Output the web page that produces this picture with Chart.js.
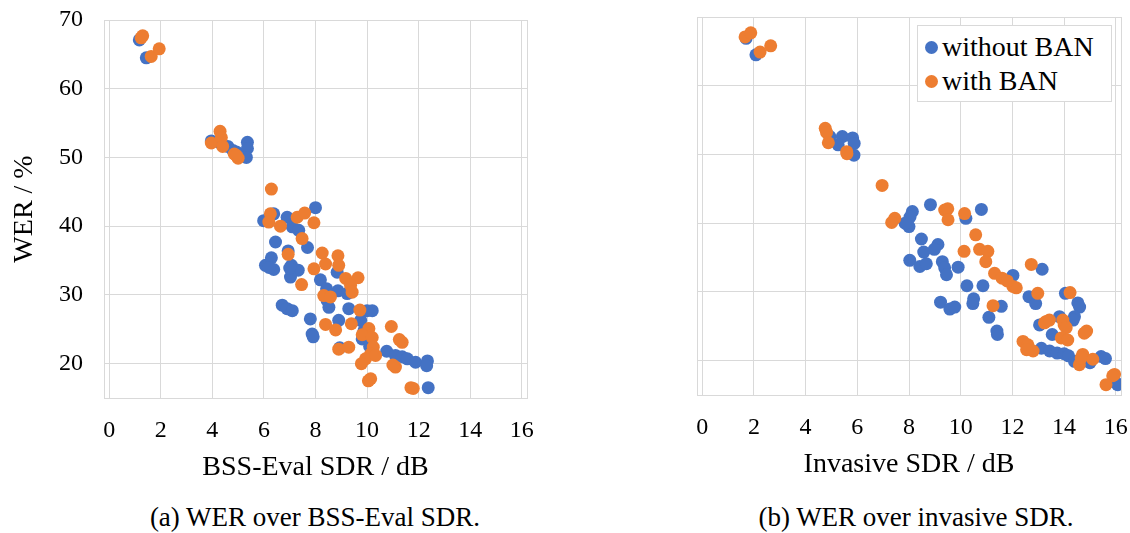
<!DOCTYPE html>
<html>
<head>
<meta charset="utf-8">
<script src="https://cdn.jsdelivr.net/npm/chart.js@4.4.1/dist/chart.umd.min.js"></script>
<style>
    body { margin: 0; width: 1130px; height: 533px; background: #fff; position: relative; overflow: hidden; font-family: "Liberation Serif", serif; color: #000; }
    .box { position: absolute; }
    #leftBox { left: 0; top: 0; width: 545px; height: 490px; }
    #rightBox { left: 690px; top: 0; width: 440px; height: 487px; }
    .caption { position: absolute; top: 502px; width: 500px; font-size: 27px; line-height: 30px; text-align: center; }
    #legend { position: absolute; left: 917px; top: 25px; width: 195px; height: 77px; border: 1px solid #d9d9d9; background: #fff; font-size: 28px; line-height: 34px; padding-top: 4px; box-sizing: border-box; }
    #legend div { padding-left: 7px; white-space: nowrap; }
    #legend span.dot { display: inline-block; width: 13px; height: 13px; border-radius: 50%; margin-right: 4px; vertical-align: 2px; }
</style>
</head>
<body>
<div class="box" id="leftBox"><canvas id="bssChart"></canvas></div>
<div class="box" id="rightBox"><canvas id="invChart"></canvas></div>
<div class="caption" style="left:65px">(a) WER over BSS-Eval SDR.</div>
<div class="caption" style="left:666px">(b) WER over invasive SDR.</div>
<div id="legend">
    <div><span class="dot" style="background:#4472c4"></span>without BAN</div>
    <div><span class="dot" style="background:#ed7d31"></span>with BAN</div>
</div>
<script>
// WER (%) over SDR (dB) as [x, y]
const bssWithout = [
    [1.17, 67.1], [1.44, 64.5],
    [3.96, 52.4], [4.3, 52.1], [4.6, 51.6], [4.8, 51.0], [4.93, 50.8], [5.36, 52.2], [5.36, 51.3], [5.32, 50.0],
    [5.99, 40.8], [6.38, 41.8], [6.9, 41.3], [7.1, 39.9], [7.35, 39.4], [8.0, 42.7], [6.45, 37.7], [6.94, 36.4], [7.69, 36.9],
    [6.06, 34.3], [6.29, 35.4], [6.38, 33.7], [7.07, 34.3], [7.33, 33.6], [7.03, 32.6], [6.2, 34.0], [7.0, 33.9],
    [8.19, 32.2], [8.84, 33.3], [8.43, 30.9], [8.45, 29.2], [8.52, 28.2], [8.87, 30.6], [9.23, 30.2], [9.29, 28.0],
    [10.2, 27.7], [10.0, 27.7], [9.75, 26.3],
    [6.71, 28.5], [6.9, 28.0], [7.1, 27.7], [7.8, 26.5], [7.87, 24.3], [7.91, 23.9],
    [8.9, 26.3], [9.88, 24.8], [9.81, 23.6], [8.94, 22.3], [10.1, 22.5],
    [10.76, 21.8], [11.1, 21.2], [11.36, 21.0], [11.56, 20.7], [11.88, 20.2], [12.34, 20.4], [12.31, 19.7], [12.37, 16.5]
];
const bssWith = [
    [1.24, 67.4], [1.3, 67.7], [1.63, 64.7], [1.94, 65.8],
    [3.96, 52.1], [4.3, 53.8], [4.35, 52.9], [4.4, 51.6], [4.85, 50.5], [5.0, 49.9], [4.93, 50.3],
    [6.29, 45.4], [6.25, 41.8], [6.19, 40.6], [6.64, 40.0], [7.29, 41.3], [7.58, 41.9], [7.94, 40.5], [6.94, 35.9], [7.48, 38.2], [7.46, 31.5],
    [8.26, 36.1], [8.87, 35.7], [7.94, 33.8], [8.39, 34.5], [8.9, 34.3], [9.17, 32.4], [9.65, 32.5], [9.36, 31.4], [9.42, 30.4],
    [8.32, 29.9], [8.58, 29.7], [9.72, 27.8],
    [8.39, 25.7], [8.78, 24.9], [9.39, 25.8], [10.07, 25.1], [9.81, 24.2], [10.2, 23.8], [10.24, 22.4], [10.14, 21.4],
    [9.94, 20.7], [9.78, 20.0], [10.33, 21.2], [8.9, 22.1], [9.29, 22.4], [10.14, 17.8], [10.05, 17.5],
    [10.94, 25.4], [11.36, 23.1], [11.25, 23.5], [11.1, 19.5], [11.0, 19.8], [11.79, 16.4], [11.7, 16.5]
];
const invWithout = [
    [1.7, 66.9], [2.08, 64.5],
    [4.94, 52.6], [5.42, 52.6], [5.26, 51.4], [5.82, 52.4], [5.88, 51.6], [5.87, 49.9],
    [8.83, 42.7], [8.13, 41.7], [8.04, 40.9], [8.0, 39.5], [7.85, 40.0], [10.2, 40.7], [10.8, 42.0],
    [8.48, 37.7], [9.12, 36.9], [8.98, 36.2], [8.57, 35.8], [8.03, 34.6], [8.42, 33.7], [8.67, 34.1],
    [9.29, 34.4], [9.38, 33.5], [9.45, 32.5], [9.9, 33.6],
    [10.24, 30.9], [10.86, 30.9], [9.22, 28.5], [9.58, 27.5], [9.77, 27.8], [10.5, 29.0], [10.47, 28.3],
    [11.09, 26.3], [11.57, 27.9], [11.4, 24.3], [11.42, 23.8],
    [12.02, 32.4], [13.15, 33.3], [12.64, 29.3], [12.9, 28.3], [14.05, 29.8], [14.53, 28.4], [14.6, 27.8],
    [14.4, 26.4], [14.35, 25.9], [13.82, 26.4], [13.05, 25.2], [13.54, 23.8],
    [13.12, 21.8], [13.44, 21.4], [13.73, 21.1], [14.0, 21.0], [14.17, 20.7], [14.4, 19.9], [15.0, 19.7],
    [15.43, 20.6], [15.6, 20.3], [16.0, 16.8], [16.07, 16.5]
];
const invWith = [
    [1.66, 67.1], [1.88, 67.7], [2.24, 64.9], [2.65, 65.8],
    [4.76, 53.8], [4.81, 53.2], [4.88, 51.7], [5.59, 50.4], [5.6, 50.1],
    [6.96, 45.5], [7.45, 40.7], [7.33, 40.1], [9.38, 41.9], [9.5, 42.1], [9.51, 40.5], [10.15, 41.4],
    [10.58, 38.3], [10.13, 35.9], [10.73, 36.2], [11.05, 35.9], [10.97, 34.4], [11.31, 32.7], [11.6, 32.0],
    [12.02, 30.8], [12.15, 30.6], [11.8, 31.6],
    [12.73, 34.0], [11.25, 28.0], [12.98, 29.8], [14.23, 29.9], [13.31, 25.7], [13.24, 25.5], [13.43, 25.9],
    [14.0, 25.2], [13.95, 25.9], [14.08, 24.8], [14.87, 24.3], [14.78, 24.0], [13.89, 23.3], [14.14, 23.0],
    [12.41, 22.8], [12.6, 22.3], [12.8, 21.4], [12.55, 21.6], [14.72, 20.9], [14.59, 19.4], [14.66, 20.4],
    [15.11, 20.2], [15.95, 18.0], [15.88, 17.8], [15.62, 16.5]
];
const xTicks = [0, 2, 4, 6, 8, 10, 12, 14, 16];
const yTicks = [20, 30, 40, 50, 60, 70];

const blue = '#4472c4';
const orange = '#ed7d31';
const gridColor = '#d9d9d9';
const serif = '"Liberation Serif", serif';

function toPoints(pairs) {
    return pairs.map(p => ({ x: p[0], y: p[1] }));
}

// frame round the plot area, like the spreadsheet original
const frame = {
    id: 'frame',
    beforeDatasetsDraw(chart) {
        const a = chart.chartArea;
        const ctx = chart.ctx;
        ctx.save();
        ctx.strokeStyle = gridColor;
        ctx.lineWidth = 1;
        ctx.strokeRect(Math.round(a.left) + 0.5, Math.round(a.top) + 0.5, Math.round(a.right - a.left), Math.round(a.bottom - a.top));
        ctx.restore();
    }
};

function makeChart(id, without, withBan, opts) {
    return new Chart(document.getElementById(id), {
        type: 'scatter',
        data: {
            datasets: [{
                label: 'with BAN',
                data: toPoints(withBan),
                backgroundColor: orange,
                borderWidth: 0,
                pointRadius: 6.5,
                pointHoverRadius: 6.5
            }, {
                label: 'without BAN',
                data: toPoints(without),
                backgroundColor: blue,
                borderWidth: 0,
                pointRadius: 6.5,
                pointHoverRadius: 6.5
            }]
        },
        options: {
            responsive: true,
            maintainAspectRatio: false,
            animation: false,
            layout: { padding: opts.padding },
            plugins: { legend: { display: false }, tooltip: { enabled: false } },
            scales: {
                x: {
                    type: 'linear',
                    min: -0.2,
                    max: 16.2,
                    afterBuildTicks: (scale) => { scale.ticks = xTicks.map(v => ({ value: v })); },
                    afterFit: (scale) => {
                        scale.height = 92;
                        scale.paddingLeft = 0;
                        scale.paddingRight = 0;
                    },
                    grid: { color: gridColor, drawTicks: false },
                    border: { display: false },
                    ticks: { color: '#000', padding: 18, font: { family: serif, size: 24 } },
                    title: {
                        display: true,
                        text: opts.xTitle,
                        color: '#000',
                        padding: { top: 0, bottom: 6 },
                        font: { family: serif, size: 28 }
                    }
                },
                y: {
                    min: 15,
                    max: 70,
                    afterBuildTicks: (scale) => { scale.ticks = yTicks.map(v => ({ value: v })); },
                    afterFit: (scale) => {
                        scale.width = opts.yWidth;
                        scale.paddingTop = 0;
                        scale.paddingBottom = 0;
                    },
                    grid: { color: gridColor, drawTicks: false },
                    border: { display: false },
                    ticks: { display: opts.yLabels, color: '#000', padding: 21, font: { family: serif, size: 24 } },
                    title: {
                        display: opts.yLabels,
                        text: 'WER / %',
                        color: '#000',
                        padding: { top: 8, bottom: 0 },
                        font: { family: serif, size: 28 }
                    }
                }
            }
        },
        plugins: [frame]
    });
}

makeChart('bssChart', bssWithout, bssWith, {
    xTitle: 'BSS-Eval SDR / dB',
    yLabels: true,
    yWidth: 104,
    padding: { left: 0, right: 18, top: 20, bottom: 0 }
});
makeChart('invChart', invWithout, invWith, {
    xTitle: 'Invasive SDR / dB',
    yLabels: false,
    yWidth: 7,
    padding: { left: 0, right: 9, top: 17, bottom: 0 }
});
</script>
</body>
</html>
